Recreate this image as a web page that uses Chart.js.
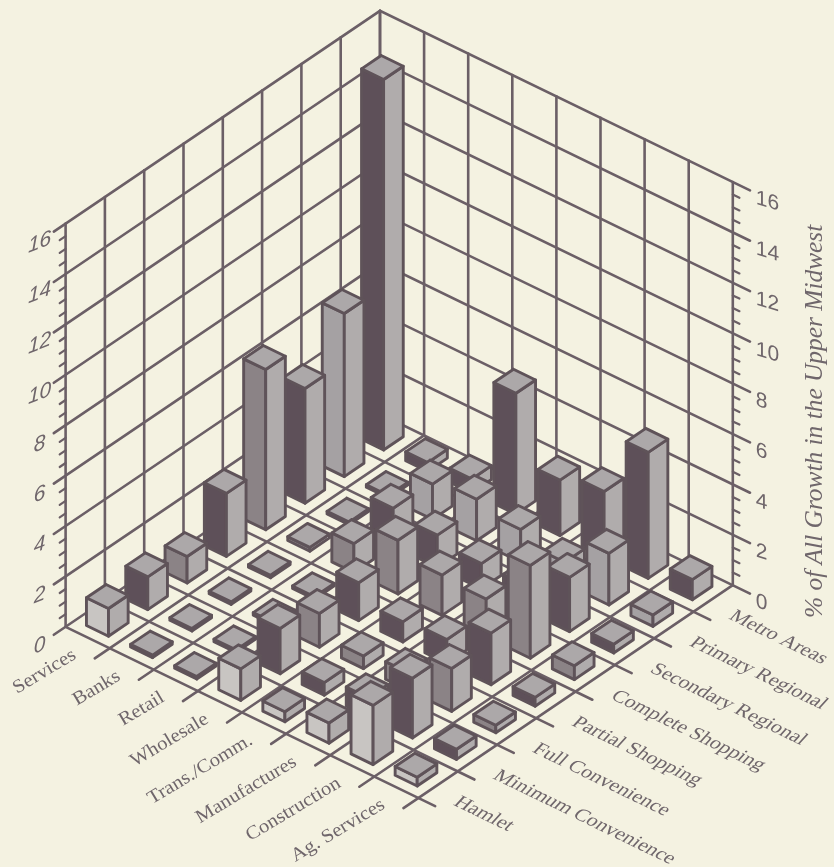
<!DOCTYPE html>
<html>
<head>
<meta charset="utf-8">
<title>% of All Growth in the Upper Midwest</title>
<script src="https://cdn.jsdelivr.net/npm/chart.js@4"></script>
<style>
    html, body { margin: 0; padding: 0; background: #f4f2e1; }
    canvas { display: block; }
</style>
</head>
<body>
<canvas id="growthChart" width="834" height="867"></canvas>
<script>
const industries = ['Services', 'Banks', 'Retail', 'Wholesale', 'Trans./Comm.', 'Manufactures', 'Construction', 'Ag. Services'];
const places = ['Metro Areas', 'Primary Regional', 'Secondary Regional', 'Complete Shopping', 'Partial Shopping', 'Full Convenience', 'Minimum Convenience', 'Hamlet'];
const heightTicks = [0, 2, 4, 6, 8, 10, 12, 14, 16];
const axisTitle = '% of All Growth in the Upper Midwest';

// percent of growth per place type, Metro Areas first
const services = [14.7, 6.47, 4.55, 6.36, 2.5, 1.05, 1.3, 1.1];
const banks = [0.35, 0.1, 0.1, 0.15, 0.1, 0.1, 0.1, 0.1];
const retail = [0.55, 1.4, 1.5, 1.15, 0.1, 0.1, 0.1, 0.1];
const wholesale = [4.8, 1.65, 1.28, 2.13, 1.5, 1.34, 1.8, 1.25];
const transComm = [2.2, 1.3, 1.0, 1.6, 0.8, 0.5, 0.5, 0.4];
const manufactures = [2.6, 0.85, 1.0, 1.5, 0.95, 0.7, 0.75, 0.8];
const construction = [5.0, 2.05, 2.15, 3.68, 2.05, 1.7, 2.37, 2.35];
const agServices = [0.8, 0.45, 0.35, 0.55, 0.35, 0.3, 0.4, 0.35];
const rows = [services, banks, retail, wholesale, transComm, manufactures, construction, agServices];

// left face colour of each place type
const placeShades = ['#5e5059', '#a5a1a3', '#5e5059', '#8b8386', '#5e5059', '#8b8386', '#5e5059', '#c8c5c2'];
const topShade = '#aca8a9';
const rightShade = '#b0acac';
const ink = '#5f5359';
const gridInk = '#6b5f66';
const textInk = '#6f666b';

// axonometric projection of (industry, place, percent) on the chart's x/y scales
const origin = { x: 380, y: 414 };
const stepU = { x: 44.1, y: 21.4 };
const stepV = { x: -39.3, y: 26.6 };
const unitZ = 25.2;
const cells = 8;
const topZ = 16;

function project(u, v, z) {
    return {
        x: origin.x + u * stepU.x + v * stepV.x,
        y: origin.y + u * stepU.y + v * stepV.y - z * unitZ
    };
}

const datasets = [];

function addLine(points, width) {
    datasets.push({
        data: points,
        showLine: true,
        fill: false,
        borderColor: gridInk,
        borderWidth: width || 2.6,
        borderCapStyle: 'round',
        pointRadius: 0
    });
}

function addFace(points, color) {
    datasets.push({
        data: points.concat([points[0]]),
        showLine: true,
        fill: 'shape',
        backgroundColor: color,
        borderColor: ink,
        borderWidth: 2.9,
        borderJoinStyle: 'round',
        borderCapStyle: 'round',
        pointRadius: 0
    });
}

// back walls
const wallOut = 0.3;
for (let k = 0; k <= cells; k++) {
    addLine([project(0, k, 0), project(0, k, topZ)]);
    addLine([project(k, 0, 0), project(k, 0, topZ)]);
}
heightTicks.forEach(z => {
    addLine([project(0, cells + wallOut, z), project(0, 0, z), project(cells + wallOut * 1.3, 0, z)]);
});
for (let z = 0.5; z < topZ; z += 0.5) {
    if (z % 2 === 0) continue;
    addLine([project(0, cells, z), project(0, cells + wallOut * 0.5, z)], 2.2);
    addLine([project(cells, 0, z), project(cells + wallOut * 0.5, 0, z)], 2.2);
}

// floor grid, lines run a little past the front edges
const floorOut = 0.38;
for (let k = 1; k <= cells; k++) {
    addLine([project(k, 0, 0), project(k, cells + floorOut, 0)]);
    addLine([project(0, k, 0), project(cells + floorOut, k, 0)]);
}

// bars, back to front so nearer ones cover farther ones
const order = [];
rows.forEach((row, i) => row.forEach((value, j) => order.push({ i, j, value })));
order.sort((a, b) => (a.i + a.j) - (b.i + b.j));
order.forEach(({ i, j, value }) => {
    const u0 = i + 0.25, u1 = i + 0.75, v0 = j + 0.25, v1 = j + 0.75;
    addFace([project(u0, v1, 0), project(u1, v1, 0), project(u1, v1, value), project(u0, v1, value)], placeShades[j]);
    addFace([project(u1, v1, 0), project(u1, v0, 0), project(u1, v0, value), project(u1, v1, value)], rightShade);
    addFace([project(u0, v0, value), project(u1, v0, value), project(u1, v1, value), project(u0, v1, value)], topShade);
});

// the chart paints lower-indexed datasets last
datasets.reverse();

function skewedText(ctx, text, x, y, angle, scaleX, shearX, shearY) {
    ctx.save();
    ctx.translate(x, y);
    ctx.rotate(angle);
    ctx.transform(scaleX, shearY, shearX, 1, 0, 0);
    ctx.fillText(text, 0, 0);
    ctx.restore();
}

const axisLabels = {
    id: 'axisLabels',
    afterDraw(chart) {
        const { ctx, scales } = chart;
        const at = p => ({ x: scales.x.getPixelForValue(p.x), y: scales.y.getPixelForValue(p.y) });
        ctx.save();
        ctx.fillStyle = textInk;
        ctx.textBaseline = 'middle';

        heightTicks.forEach(z => {
            const left = at(project(0, cells, z));
            const right = at(project(cells, 0, z));
            ctx.font = 'italic 21px "Liberation Sans"';
            ctx.textAlign = 'center';
            skewedText(ctx, String(z), left.x - 26, left.y + 19, 0, 1, 0, -0.4);
            ctx.font = '21px "Liberation Sans"';
            ctx.textAlign = 'left';
            skewedText(ctx, String(z), right.x + 23, right.y + 16, 0, 1, 0, 0.3);
        });

        ctx.font = '19px "Liberation Serif"';
        ctx.textAlign = 'right';
        industries.forEach((name, i) => {
            const p = at(project(i + 0.5, cells, 0));
            skewedText(ctx, name, p.x - 13, p.y + 16, -31 * Math.PI / 180, 1.09, 0, 0);
        });

        ctx.font = '19px "Liberation Serif"';
        ctx.textAlign = 'left';
        places.forEach((name, j) => {
            const p = at(project(cells, j + 0.5, 0));
            skewedText(ctx, name, p.x + 18, p.y + 16, 25.9 * Math.PI / 180, 1.1, -0.3, 0);
        });

        ctx.font = 'italic 25.4px "Liberation Serif"';
        ctx.textAlign = 'left';
        skewedText(ctx, axisTitle, 815, 618, -Math.PI / 2, 1, 0, 0);
        ctx.restore();
    }
};

new Chart(document.getElementById('growthChart'), {
    type: 'scatter',
    data: { datasets },
    plugins: [axisLabels],
    options: {
        responsive: false,
        animation: false,
        layout: { padding: 0 },
        plugins: { legend: { display: false }, tooltip: { enabled: false } },
        scales: {
            x: { type: 'linear', display: false, min: 0, max: 834 },
            y: { type: 'linear', display: false, min: 0, max: 867, reverse: true }
        }
    }
});
</script>
</body>
</html>
